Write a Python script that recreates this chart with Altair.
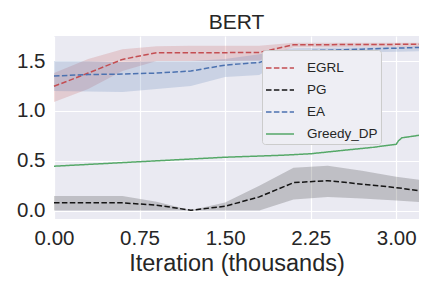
import altair as alt
import pandas as pd

# ---- data ----
iters = [0.0, 0.3, 0.6, 0.9, 1.2, 1.5, 1.8, 2.1, 2.4, 2.7, 3.0, 3.2]

egrl_mean = [1.247, 1.38, 1.517, 1.584, 1.584, 1.585, 1.586, 1.665, 1.665, 1.667, 1.668, 1.668]
egrl_lo = [1.09, 1.22, 1.40, 1.50, 1.50, 1.50, 1.505, 1.64, 1.64, 1.645, 1.645, 1.645]
egrl_hi = [1.38, 1.52, 1.62, 1.65, 1.655, 1.655, 1.655, 1.685, 1.685, 1.685, 1.685, 1.685]

pg_mean = [0.077, 0.077, 0.077, 0.054, 0.003, 0.043, 0.137, 0.28, 0.30, 0.265, 0.23, 0.20]
pg_lo = [0.0, 0.0, 0.0, 0.0, 0.0, 0.0, 0.0, 0.11, 0.137, 0.12, 0.10, 0.085]
pg_hi = [0.145, 0.145, 0.145, 0.087, 0.003, 0.08, 0.25, 0.43, 0.45, 0.40, 0.34, 0.31]

ea_mean = [1.35, 1.365, 1.37, 1.38, 1.40, 1.46, 1.487, 1.60, 1.61, 1.62, 1.63, 1.637]
ea_lo = [1.20, 1.195, 1.19, 1.22, 1.25, 1.34, 1.36, 1.58, 1.585, 1.59, 1.595, 1.60]
ea_hi = [1.50, 1.50, 1.49, 1.50, 1.50, 1.52, 1.57, 1.63, 1.635, 1.64, 1.645, 1.65]

greedy_x = [0.0, 0.75, 1.5, 2.0, 2.25, 2.5, 2.8, 3.0, 3.02, 3.05, 3.2]
greedy_y = [0.445, 0.49, 0.535, 0.555, 0.57, 0.60, 0.635, 0.665, 0.70, 0.73, 0.755]

series_names = ["EGRL", "PG", "EA", "Greedy_DP"]
series_colors = ["#C44E52", "#151515", "#4C72B0", "#55A868"]
series_dashes = [[5.5, 2.4], [5.5, 2.4], [5.5, 2.4], [1, 0]]

x_ticks = [0.0, 0.75, 1.5, 2.25, 3.0]
y_ticks = [0.0, 0.5, 1.0, 1.5]

# ---- tables ----
band_rows = []
for name, lo, hi in [("EGRL", egrl_lo, egrl_hi), ("PG", pg_lo, pg_hi), ("EA", ea_lo, ea_hi)]:
    for x, l, h in zip(iters, lo, hi):
        band_rows.append({"x": x, "lo": l, "hi": h, "series": name})
band_df = pd.DataFrame(band_rows)

line_rows = []
for name, ys in [("EGRL", egrl_mean), ("PG", pg_mean), ("EA", ea_mean)]:
    for x, y in zip(iters, ys):
        line_rows.append({"x": x, "y": y, "series": name})
for x, y in zip(greedy_x, greedy_y):
    line_rows.append({"x": x, "y": y, "series": "Greedy_DP"})
line_df = pd.DataFrame(line_rows)

FONT = "Liberation Sans"
TXT = "#262626"

x_scale = alt.Scale(domain=[0, 3.2], nice=False, zero=False)
y_scale = alt.Scale(domain=[-0.085, 1.752], nice=False, zero=False)
c_scale = alt.Scale(domain=series_names, range=series_colors)
d_scale = alt.Scale(domain=series_names, range=series_dashes)

x_axis = alt.Axis(values=x_ticks, format=".2f", title="Iteration (thousands)", labelFlush=False)
y_axis = alt.Axis(values=y_ticks, format=".1f", title=None)

legend = alt.Legend(
    title=None, orient="none", legendX=208, legendY=14,
    symbolType="stroke", symbolSize=784, symbolStrokeWidth=1.6, symbolOpacity=1,
    labelFontSize=13.5, labelFont=FONT, labelColor=TXT, labelOffset=12,
    padding=3, rowPadding=-0.5,
    fillColor="#EEEEF4", strokeColor="#cccccc", cornerRadius=3,
)

bands = alt.Chart(band_df).mark_area(opacity=0.2, strokeWidth=0).encode(
    x=alt.X("x:Q", scale=x_scale, axis=x_axis),
    y=alt.Y("lo:Q", scale=y_scale, axis=y_axis),
    y2="hi:Q",
    color=alt.Color("series:N", scale=c_scale, legend=legend),
)

lines = alt.Chart(line_df).mark_line(strokeWidth=1.5).encode(
    x=alt.X("x:Q", scale=x_scale, axis=x_axis),
    y=alt.Y("y:Q", scale=y_scale, axis=y_axis),
    color=alt.Color("series:N", scale=c_scale, legend=legend),
    strokeDash=alt.StrokeDash("series:N", scale=d_scale, legend=legend),
)

chart = alt.layer(bands, lines).properties(
    width=365, height=183,
    autosize="none",
    padding={"left": 46, "top": 28, "right": 5, "bottom": 64},
    title=alt.TitleParams("BERT", font=FONT, fontSize=21, fontWeight="normal", color=TXT, offset=3),
).configure_view(
    fill="#EAEAF2", strokeWidth=0
).configure_axis(
    grid=True, gridColor="white", gridWidth=1.2, domain=False, ticks=False,
    labelFont=FONT, labelFontSize=20.5, labelColor=TXT, labelPadding=9,
    titleFont=FONT, titleFontSize=23.5, titleFontWeight="normal", titleColor=TXT, titlePadding=3,
).configure_axisX(labelAngle=0)

chart.save("out.html", embed_options={"renderer": "svg", "actions": False})
